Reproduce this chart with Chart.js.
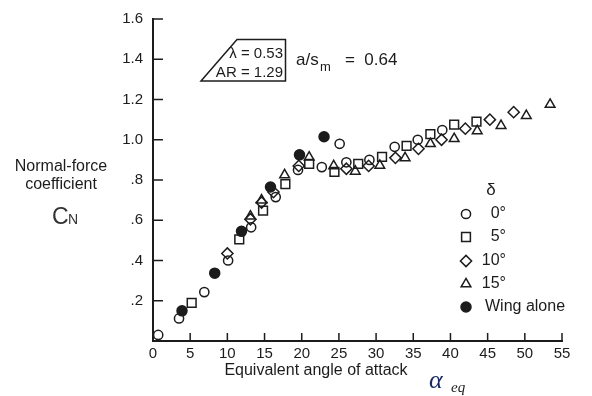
<!DOCTYPE html>
<html>
<head>
<meta charset="utf-8">
<script src="https://cdn.jsdelivr.net/npm/chart.js@4.4.0/dist/chart.umd.min.js"></script>
<style>
  html, body { margin: 0; padding: 0; background: #fff; }
  #wrap { width: 592px; height: 396px; }
</style>
</head>
<body>
<div id="wrap"><canvas id="cn"></canvas></div>
<script>
// Normal-force coefficient against equivalent angle of attack, by tail deflection
const seriesLabels = ['0°', '5°', '10°', '15°', 'Wing alone'];

const delta0 = [
  [0.7, 0.03], [3.5, 0.112], [6.9, 0.243], [10.1, 0.4], [13.2, 0.565], [16.5, 0.715],
  [19.5, 0.85], [22.7, 0.864], [25.1, 0.98], [26.0, 0.888], [29.1, 0.9], [32.5, 0.965],
  [35.6, 1.0], [38.9, 1.048],
];
const delta5 = [
  [5.2, 0.19], [11.6, 0.505], [14.8, 0.648], [17.8, 0.78], [21.0, 0.88], [24.4, 0.84],
  [27.6, 0.88], [30.8, 0.915], [34.1, 0.97], [37.3, 1.028], [40.5, 1.075], [43.5, 1.09],
];
const delta10 = [
  [10.0, 0.435], [13.1, 0.605], [14.6, 0.688], [16.2, 0.74], [19.6, 0.87], [26.0, 0.856],
  [29.0, 0.87], [32.6, 0.91], [35.7, 0.955], [38.8, 1.0], [42.0, 1.055], [45.3, 1.1],
  [48.5, 1.137],
];
const delta15 = [
  [13.1, 0.62], [14.6, 0.7], [17.7, 0.825], [21.0, 0.913], [24.3, 0.87], [27.2, 0.843],
  [30.5, 0.872], [33.9, 0.91], [37.3, 0.98], [40.5, 1.005], [43.6, 1.044], [46.8, 1.07],
  [50.2, 1.12], [53.4, 1.175],
];
const wingAlone = [
  [3.9, 0.15], [8.3, 0.337], [11.9, 0.545], [15.8, 0.765], [19.7, 0.925], [23.0, 1.015],
];

const xTickStep = 5;
const yTickLabels = ['', '.2', '.4', '.6', '.8', '1.0', '1.2', '1.4', '1.6'];

const INK = '#1c1c1c';
const FONT = '"Liberation Sans", Arial, sans-serif';

function toPoints(pairs) {
  return pairs.map(([x, y]) => ({ x, y }));
}

function makeSet(label, pairs, style, radius, filled) {
  return {
    label,
    data: toPoints(pairs),
    pointStyle: style,
    pointRadius: radius,
    pointHoverRadius: radius,
    borderWidth: 1.5,
    borderColor: INK,
    backgroundColor: filled ? INK : 'rgba(0,0,0,0)',
  };
}

// extra text, inward tick marks and the in-plot legend
const decorations = {
  id: 'decorations',
  afterDraw(chart) {
    const { ctx, scales } = chart;
    const xs = scales.x;
    const ys = scales.y;
    const area = chart.chartArea;

    ctx.save();
    ctx.strokeStyle = INK;
    ctx.fillStyle = INK;
    ctx.lineWidth = 1.5;

    // ticks pointing into the plot
    ctx.beginPath();
    xs.ticks.forEach((t) => {
      if (t.value === 0) return;
      const px = xs.getPixelForValue(t.value);
      ctx.moveTo(px, area.bottom);
      ctx.lineTo(px, area.bottom - 8);
    });
    ys.ticks.forEach((t) => {
      if (t.value === 0) return;
      const py = ys.getPixelForValue(t.value);
      ctx.moveTo(area.left, py);
      ctx.lineTo(area.left + 10, py);
    });
    ctx.stroke();

    // axis titles
    ctx.textBaseline = 'alphabetic';
    ctx.textAlign = 'center';
    ctx.font = '16px ' + FONT;
    ctx.fillText('Normal-force', 61, 171);
    ctx.fillText('coefficient', 61, 189);
    ctx.textAlign = 'left';
    ctx.font = '23px ' + FONT;
    ctx.fillStyle = '#333';
    ctx.fillText('C', 52, 224);
    ctx.font = '14px ' + FONT;
    ctx.fillText('N', 68, 224);
    ctx.fillStyle = INK;

    ctx.textAlign = 'center';
    ctx.font = '16px ' + FONT;
    ctx.fillText('Equivalent angle of attack', 316, 375);
    ctx.textAlign = 'left';
    ctx.fillStyle = '#1d2b63';
    ctx.font = 'italic 26px "Liberation Serif", "DejaVu Serif", serif';
    ctx.fillText('α', 429, 388);
    ctx.fillStyle = INK;
    ctx.font = 'italic 15px "Liberation Serif", "DejaVu Serif", serif';
    ctx.fillText('eq', 451, 392);

    // wing planform box
    ctx.lineWidth = 1.5;
    ctx.beginPath();
    ctx.moveTo(237, 39.5);
    ctx.lineTo(285.5, 39.5);
    ctx.lineTo(285.5, 81);
    ctx.lineTo(201, 81);
    ctx.closePath();
    ctx.stroke();
    ctx.textAlign = 'right';
    ctx.font = '15px ' + FONT;
    ctx.fillText('λ = 0.53', 283, 58);
    ctx.fillText('AR = 1.29', 283, 77);

    ctx.textAlign = 'left';
    ctx.font = '17px ' + FONT;
    ctx.fillText('a/s', 296, 65);
    ctx.font = '13px ' + FONT;
    ctx.fillText('m', 320, 71);
    ctx.font = '17px ' + FONT;
    ctx.fillText('=  0.64', 345, 65);

    // legend
    ctx.textAlign = 'center';
    ctx.font = '17px ' + FONT;
    ctx.fillText('δ', 491, 195);
    const rowY = [214, 237, 261, 284, 307];
    chart.data.datasets.forEach((ds, i) => {
      ctx.lineWidth = ds.borderWidth;
      ctx.strokeStyle = ds.borderColor;
      ctx.fillStyle = ds.backgroundColor;
      Chart.helpers.drawPoint(ctx, {
        pointStyle: ds.pointStyle,
        radius: ds.pointRadius,
        rotation: 0,
        borderWidth: ds.borderWidth,
      }, 466, rowY[i]);
      ctx.fillStyle = INK;
      ctx.font = '16px ' + FONT;
      ctx.textBaseline = 'middle';
      if (i < 4) {
        ctx.textAlign = 'right';
        ctx.fillText(ds.label, 506, rowY[i]);
      } else {
        ctx.textAlign = 'left';
        ctx.fillText(ds.label, 485, rowY[i]);
      }
    });

    ctx.restore();
  },
};

new Chart(document.getElementById('cn'), {
  type: 'scatter',
  data: {
    datasets: [
      makeSet(seriesLabels[0], delta0, 'circle', 4.6, false),
      makeSet(seriesLabels[1], delta5, 'rect', 6.2, false),
      makeSet(seriesLabels[2], delta10, 'rectRot', 5.6, false),
      makeSet(seriesLabels[3], delta15, 'triangle', 5.6, false),
      makeSet(seriesLabels[4], wingAlone, 'circle', 5, true),
    ],
  },
  options: {
    responsive: true,
    maintainAspectRatio: false,
    animation: false,
    layout: { padding: { top: 15, right: 30, left: 0, bottom: 0 } },
    plugins: {
      legend: { display: false },
      tooltip: { enabled: false },
    },
    scales: {
      x: {
        type: 'linear',
        min: 0,
        max: 55,
        afterFit: (s) => { s.height = 55; },
        ticks: {
          stepSize: xTickStep,
          color: INK,
          font: { family: FONT, size: 15 },
          padding: 4,
        },
        grid: { drawOnChartArea: false, drawTicks: false },
        border: { color: INK, width: 2 },
      },
      y: {
        min: 0,
        max: 1.6,
        afterFit: (s) => { s.width = 153; },
        ticks: {
          stepSize: 0.2,
          color: INK,
          font: { family: FONT, size: 15 },
          padding: 10,
          callback: (v, i) => yTickLabels[i],
        },
        grid: { drawOnChartArea: false, drawTicks: false },
        border: { color: INK, width: 2 },
      },
    },
  },
  plugins: [decorations],
});
</script>
</body>
</html>
